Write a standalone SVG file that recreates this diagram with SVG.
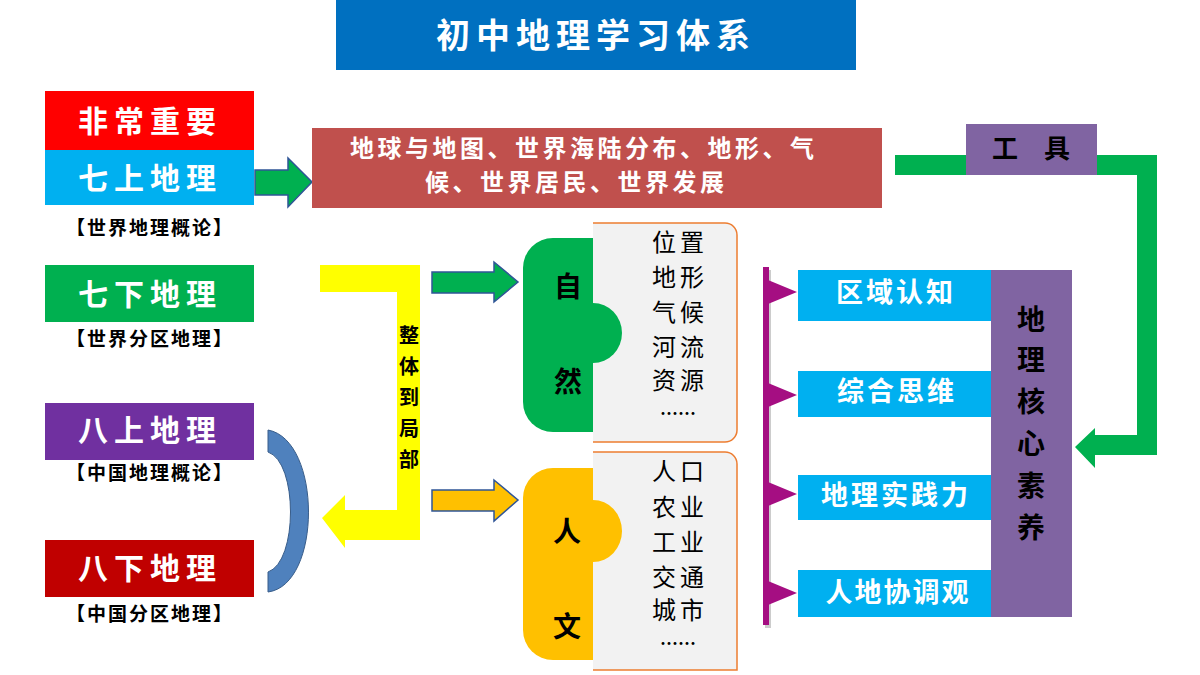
<svg xmlns="http://www.w3.org/2000/svg" width="1200" height="675" viewBox="0 0 1200 675">
<style>
text{font-family:"Noto Sans CJK SC","Noto Sans",sans-serif;text-anchor:middle;dominant-baseline:central}
.w{fill:#fff;font-weight:bold}
.b{fill:#000;font-weight:bold}
.big{font-size:30px;letter-spacing:6px}
.sub{font-size:19px;fill:#000;font-weight:bold;letter-spacing:2px}
.item{font-size:24px;fill:#000;letter-spacing:4px}
.dots{font-size:18px;fill:#000;font-weight:bold;letter-spacing:0}
.blue{fill:#00B0F0}
</style>
<rect width="1200" height="675" fill="#fff"/>
<g id="title"><rect x="336" y="0" width="520" height="70" fill="#0070C0"/><text x="596" y="33" class="w" font-size="34" letter-spacing="6">初中地理学习体系</text></g>

<g id="connectors">
<path d="M255,170 H288 V158 L312,182 L288,207 V195 H255 Z" fill="#00B050" stroke="#2F5597" stroke-width="1.5"/>
<path d="M895,155 H1157 V455 H1095 V468 L1075,447 L1095,428 V435 H1137 V175 H895 Z" fill="#00B050"/>
<path d="M320,265 H420 V540 H345 V548 L322,518 L345,495 V510 H397 V292 H320 Z" fill="#FFFF00"/>
<path d="M268,430 C322,440 322,585 268,592 V572 C298,562 298,462 268,452 Z" fill="#4F81BD" stroke="#385D8A" stroke-width="1"/>
<path d="M432,272 H494 V262 L518,282 L494,302 V293 H432 Z" fill="#00B050" stroke="#2F5597" stroke-width="1.5"/>
<path d="M432,490 H494 V480 L518,500 L494,521 V511 H432 Z" fill="#FFC000" stroke="#2F5597" stroke-width="1.5"/>
<rect x="765" y="270" width="6" height="358" fill="#999" opacity="0.5"/>
<rect x="763" y="267" width="6" height="358" fill="#A50E82"/>
<path d="M768,280 L797,292 L768,304 Z M768,383 L797,395 L768,407 Z M768,482 L797,494 L768,506 Z M768,581 L797,593 L768,605 Z" fill="#A50E82"/>
<text font-size="20" class="b"><tspan x="409" y="334">整</tspan><tspan x="409" y="365">体</tspan><tspan x="409" y="396">到</tspan><tspan x="409" y="427">局</tspan><tspan x="409" y="458">部</tspan></text>
</g>

<g id="n1"><rect x="45" y="91" width="209" height="59" fill="#FF0000"/><text x="150" y="119" class="w big">非常重要</text></g>
<g id="n2"><rect x="45" y="150" width="209" height="55" fill="#00B0F0"/><text x="150" y="176" class="w big">七上地理</text><text x="150" y="226" class="sub">【世界地理概论】</text></g>
<g id="n3"><rect x="45" y="265" width="209" height="57" fill="#00B050"/><text x="150" y="292" class="w big">七下地理</text><text x="150" y="337" class="sub">【世界分区地理】</text></g>
<g id="n4"><rect x="45" y="403" width="209" height="57" fill="#7030A0"/><text x="150" y="428" class="w big">八上地理</text><text x="150" y="471" class="sub">【中国地理概论】</text></g>
<g id="n5"><rect x="45" y="540" width="209" height="57" fill="#C00000"/><text x="150" y="566" class="w big">八下地理</text><text x="150" y="612" class="sub">【中国分区地理】</text></g>

<g id="n6"><rect x="312" y="128" width="570" height="80" fill="#C0504D"/><text x="350" y="146" class="w" font-size="24" font-weight="normal" letter-spacing="3.5" text-anchor="start" style="text-anchor:start">地球与地图、世界海陆分布、地形、气</text><text x="425" y="180" class="w" font-size="24" letter-spacing="3.5" style="text-anchor:start">候、世界居民、世界发展</text></g>
<g id="n7"><rect x="966" y="124" width="131" height="51" fill="#8064A2"/><text x="1031" y="146" class="b" font-size="26">工　具</text></g>

<g id="n8">
<path d="M553,238 H593 V432 H553 A30,30 0 0 1 523,402 V268 A30,30 0 0 1 553,238 Z" fill="#00B050"/>
<path d="M593,223 H725 A12,12 0 0 1 737,235 V430 A12,12 0 0 1 725,442 H593" fill="#F2F2F2" stroke="#ED7D31" stroke-width="1.5"/>
<path d="M593,303 A29,30 0 0 1 593,363 Z" fill="#00B050"/>
<text x="568" y="285" class="b" font-size="28">自</text><text x="568" y="380" class="b" font-size="28">然</text>
<text x="680" y="240" class="item">位置</text><text x="680" y="275" class="item">地形</text><text x="680" y="310" class="item">气候</text><text x="680" y="345" class="item">河流</text><text x="680" y="378" class="item">资源</text><text x="678" y="412" class="dots">……</text>
</g>
<g id="n9">
<path d="M553,468 H593 V660 H553 A30,30 0 0 1 523,630 V498 A30,30 0 0 1 553,468 Z" fill="#FFC000"/>
<path d="M593,452 H725 A12,12 0 0 1 737,464 V670 H593" fill="#F2F2F2" stroke="#ED7D31" stroke-width="1.5"/>
<path d="M593,500 A29,31 0 0 1 593,562 Z" fill="#FFC000"/>
<text x="567" y="530" class="b" font-size="28">人</text><text x="567" y="625" class="b" font-size="28">文</text>
<text x="680" y="469" class="item">人口</text><text x="680" y="505" class="item">农业</text><text x="680" y="540" class="item">工业</text><text x="680" y="575" class="item">交通</text><text x="680" y="608" class="item">城市</text><text x="678" y="642" class="dots">……</text>
</g>

<g id="n10"><rect x="798" y="270" width="193" height="51" class="blue"/><text x="896" y="290" class="w" font-size="27" letter-spacing="3">区域认知</text></g>
<g id="n11"><rect x="798" y="371" width="193" height="46" class="blue"/><text x="897" y="389" class="w" font-size="27" letter-spacing="3">综合思维</text></g>
<g id="n12"><rect x="798" y="475" width="193" height="45" class="blue"/><text x="896" y="493" class="w" font-size="27" letter-spacing="3">地理实践力</text></g>
<g id="n13"><rect x="798" y="570" width="193" height="47" class="blue"/><text x="898" y="590" class="w" font-size="27" letter-spacing="2">人地协调观</text></g>
<g id="n14"><rect x="991" y="270" width="81" height="347" fill="#8064A2"/>
<text class="b" font-size="28"><tspan x="1031" y="318">地</tspan><tspan x="1031" y="358">理</tspan><tspan x="1031" y="400">核</tspan><tspan x="1031" y="442">心</tspan><tspan x="1031" y="484">素</tspan><tspan x="1031" y="526">养</tspan></text></g>
</svg>
